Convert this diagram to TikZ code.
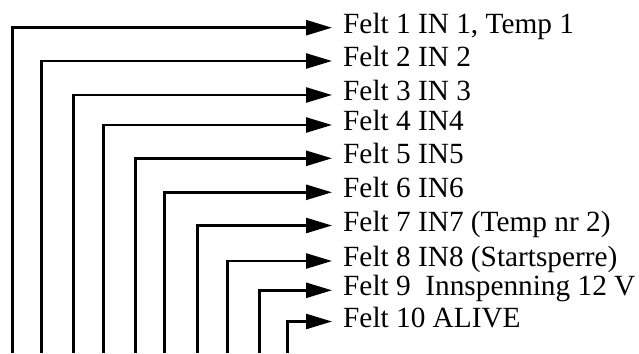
\documentclass[tikz,border=0pt]{standalone}
\usepackage{fontspec}
\setmainfont{Liberation Serif}
\usetikzlibrary{arrows.meta}
\begin{document}
\begin{tikzpicture}[x=1pt,y=-1pt,
  wire/.style={line width=2.5pt,-{Triangle[length=26pt,width=15pt]}},
  lbl/.style={anchor=base west,inner sep=0pt,font=\fontsize{29.3}{33}\selectfont}]
\useasboundingbox (0,0) rectangle (639,353);
\foreach \i/\x/\y/\t in {
  1/12.3/27.7/{Felt 1 IN 1, Temp 1},
  2/41.3/61/{Felt 2 IN 2},
  3/73.7/95/{Felt 3 IN 3},
  4/103.3/125/{Felt 4 IN4},
  5/135.7/158.3/{Felt 5 IN5},
  6/164.7/192.3/{Felt 6 IN6},
  7/197.7/225.5/{Felt 7 IN7 (Temp nr 2)},
  8/227.3/261/{Felt 8 IN8 (Startsperre)},
  9/259.7/290.3/{Felt 9\ \ Innspenning 12 V},
  10/287.7/321.5/{Felt 10 ALIVE}}{
  \coordinate (b\i) at (\x,353);
  \coordinate (e\i) at (332,\y);
  \node[lbl] (t\i) at (343,\y+5.6) {\t};
  \draw[wire] (b\i) |- (e\i);
}
\end{tikzpicture}
\end{document}
